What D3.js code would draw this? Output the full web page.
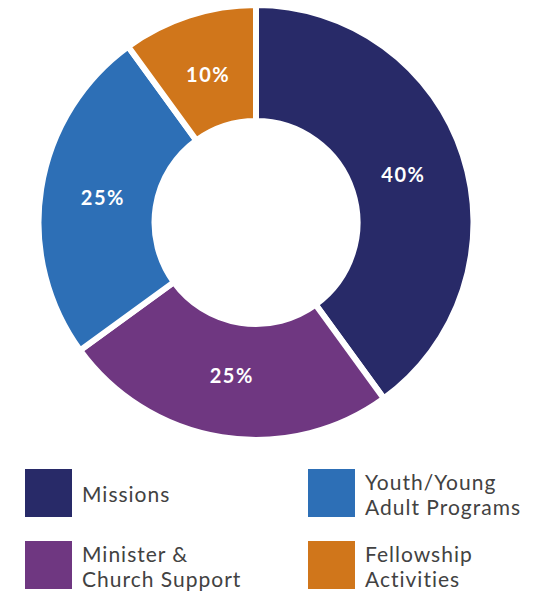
<!DOCTYPE html>
<html>
<meta charset="utf-8" />
<script src="https://d3js.org/d3.v7.min.js"></script>
<style>
  body { margin: 0; background: #fff; }
  text { font-family: Lato, "Open Sans", sans-serif; }
</style>
<body>
<svg id="chart" width="560" height="593"></svg>
<script>
  // slice data, clockwise from 12 o'clock
  var categories = ["Missions", "Minister & Church Support", "Youth/Young Adult Programs", "Fellowship Activities"]
  var shares = [40, 25, 25, 10]
  var colors = ["#282a68", "#6f3781", "#2d6fb6", "#d0761b"]
  var legendLines = [["Missions"], ["Minister &", "Church Support"], ["Youth/Young", "Adult Programs"], ["Fellowship", "Activities"]]

  var svg = d3.select("#chart")
  var cx = 256, cy = 222.5
  var outer = 217.5, inner = 101.5, labelR = 155

  var pie = d3.pie().sort(null).value(d => d)
  var arc = d3.arc().innerRadius(inner).outerRadius(outer)
  var labelArc = d3.arc().innerRadius(labelR).outerRadius(labelR)

  var g = svg.append("g").attr("transform", "translate(" + cx + "," + cy + ")")

  var slices = g.selectAll("g.slice")
    .data(pie(shares))
    .enter().append("g").attr("class", "slice")

  slices.append("path")
    .attr("d", arc)
    .attr("fill", (d, i) => colors[i])
    .attr("stroke", "#fff")
    .attr("stroke-width", 6)

  slices.append("text")
    .attr("transform", d => "translate(" + labelArc.centroid(d) + ")")
    .attr("text-anchor", "middle")
    .attr("dy", "0.36em")
    .attr("fill", "#fff")
    .style("font-size", "20px")
    .style("font-weight", 700)
    .style("letter-spacing", "1.5px")
    .text(d => d.data + "%")

  // legend: two columns, two rows
  var colX = [25, 308], rowY = [469, 541]
  var box = 47

  var legend = svg.selectAll("g.legend")
    .data(categories)
    .enter().append("g").attr("class", "legend")
    .attr("transform", (d, i) => "translate(" + colX[Math.floor(i / 2)] + "," + rowY[i % 2] + ")")

  legend.append("rect")
    .attr("width", box)
    .attr("height", 48)
    .attr("fill", (d, i) => colors[i])

  legend.append("text")
    .style("font-size", "21px")
    .style("letter-spacing", "1px")
    .attr("fill", "#424242")
    .each(function(d, i) {
      var lines = legendLines[i]
      var lh = 25
      var top = 24 - (lines.length - 1) * lh / 2 + 9
      d3.select(this).selectAll("tspan")
        .data(lines)
        .enter().append("tspan")
        .attr("x", box + 10)
        .attr("y", (l, j) => top + j * lh)
        .text(l => l)
    })
</script>
</body>
</html>
